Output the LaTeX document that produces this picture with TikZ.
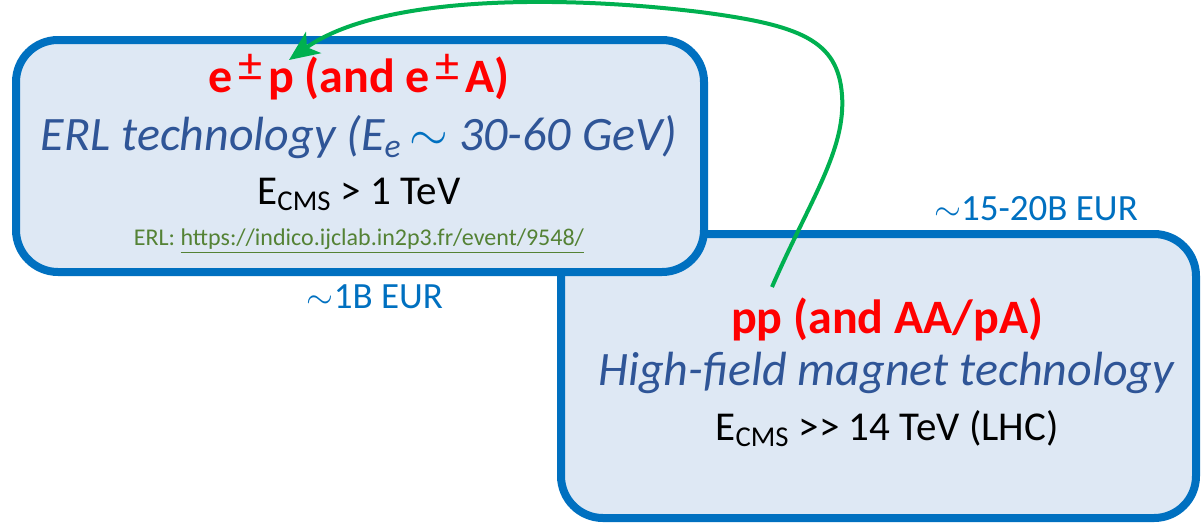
\documentclass[tikz,border=0pt]{standalone}
\usepackage{fontspec}
\setmainfont{Carlito}
\usetikzlibrary{arrows.meta}
\definecolor{boxfill}{HTML}{DEE8F4}
\definecolor{boxline}{HTML}{0070C0}
\definecolor{techblue}{HTML}{2F5597}
\definecolor{linkgreen}{HTML}{548235}
\definecolor{arrowgreen}{HTML}{00B050}
\newcommand{\pmsup}{\kern0.12em\raisebox{0.22em}{\mdseries\fontsize{24}{24}\selectfont ±}\kern0.12em}
\tikzset{
  box/.style={draw=boxline, fill=boxfill, line width=4pt, rounded corners=21pt, inner sep=0pt},
  title/.style={text=red, font=\fontsize{24}{28}\selectfont\bfseries, anchor=base, inner sep=0pt},
  tech/.style={text=techblue, font=\fontsize{24}{28}\selectfont\itshape, anchor=base, inner sep=0pt},
  ecms/.style={text=black, font=\fontsize{20.5}{24}\selectfont, anchor=base, inner sep=0pt},
  link/.style={text=linkgreen, font=\fontsize{12}{14}\selectfont, anchor=base, inner sep=0pt},
  cost/.style={text=boxline, font=\fontsize{18.5}{22}\selectfont, anchor=base, inner sep=0pt},
  conn/.style={draw=arrowgreen, line width=2pt, -{Stealth[length=15pt,width=13pt,inset=4pt]}}
}
\begin{document}
\begin{tikzpicture}[x=0.5pt,y=-0.5pt]
\useasboundingbox (0,0) rectangle (1204,525);
% right box (behind)
\node[box, minimum width=317.5pt, minimum height=142pt] (R) at (878.5,376) {};
% left box (front)
\node[box, minimum width=344pt, minimum height=116pt] (L) at (360,156) {};
% left box texts
\node[title] (Lt) at (359,92) {e\pmsup p (and e\pmsup A)};
\node[tech] (Lm) at (359,150) {ERL technology (E\textsubscript{e}\,{\upshape\color{boxline}$\sim$} 30-60 GeV)};
\node[ecms] (Le) at (359,204) {E\textsubscript{CMS} > 1 TeV};
\node[link] (Ll) at (359,245) {ERL: \underline{https://indico.ijclab.in2p3.fr/event/9548/}};
% costs
\node[cost] (c1) at (375,308) {$\sim$1B EUR};
\node[cost] (c2) at (1036,220) {$\sim$15-20B EUR};
% right box texts
\node[title] (Rt) at (887,333) {pp (and AA/pA)};
\node[tech] (Rm) at (886,385) {High-field magnet technology};
\node[ecms] (Re) at (887,440) {E\textsubscript{CMS} >{}> 14 TeV (LHC)};
% arrow
\coordinate (S) at (772,287);
\coordinate (T) at (289,60);
\draw[conn] (S) .. controls (810,200) and (846,150) .. (842,95)
  .. controls (838,40) and (800,25) .. (700,12)
  .. controls (560,-5) and (380,-5) .. (T);
\end{tikzpicture}
\end{document}
